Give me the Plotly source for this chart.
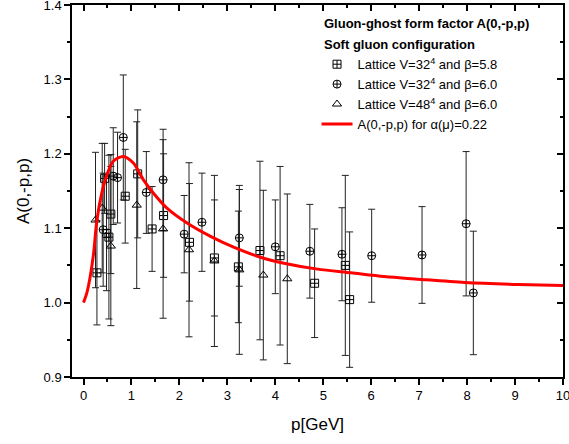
import plotly.graph_objects as go

# Lattice V=32^4, beta=5.8 (squares)
p_sq = [0.28, 0.44, 0.48, 0.53, 0.57, 0.87, 1.13, 1.43, 1.67, 2.21, 2.73, 3.23, 3.68, 4.10, 4.82, 5.46, 5.55]
a_sq = [1.040, 1.167, 1.093, 1.088, 1.119, 1.143, 1.173, 1.099, 1.117, 1.081, 1.060, 1.048, 1.070, 1.063, 1.026, 1.050, 1.004]
e_sq = [0.070, 0.047, 0.077, 0.110, 0.080, 0.063, 0.086, 0.057, 0.083, 0.079, 0.078, 0.075, 0.120, 0.120, 0.073, 0.121, 0.091]

# Lattice V=32^4, beta=6.0 (circles)
p_ci = [0.41, 0.62, 0.71, 0.83, 1.31, 1.66, 2.10, 2.47, 3.25, 4.00, 4.72, 5.39, 6.01, 7.06, 7.98, 8.13]
a_ci = [1.098, 1.170, 1.168, 1.222, 1.148, 1.165, 1.092, 1.108, 1.087, 1.075, 1.069, 1.065, 1.063, 1.064, 1.106, 1.013]
e_ci = [0.076, 0.065, 0.061, 0.084, 0.055, 0.068, 0.052, 0.066, 0.065, 0.063, 0.063, 0.0625, 0.0625, 0.065, 0.097, 0.083]

# Lattice V=48^4, beta=6.0 (triangles)
p_tr = [0.25, 0.39, 0.57, 1.11, 1.66, 2.20, 2.73, 3.25, 3.75, 4.25]
a_tr = [1.111, 1.127, 1.076, 1.131, 1.099, 1.071, 1.056, 1.044, 1.037, 1.032]
e_tr = [0.091, 0.087, 0.107, 0.112, 0.120, 0.117, 0.115, 0.1135, 0.114, 0.114]

# Theory curve A(0,-p,p) for alpha(mu)=0.22
p_th = [0, 0.07, 0.14, 0.21, 0.28, 0.38, 0.49, 0.62, 0.83, 1.04, 1.25, 1.46, 1.74, 2.16, 2.65,
        3.13, 3.69, 4.18, 4.88, 5.58, 6.27, 6.97, 7.95, 9.06, 10.0]
a_th = [1.000, 1.013, 1.035, 1.066, 1.111, 1.147, 1.172, 1.190, 1.1965, 1.1876, 1.165, 1.147, 1.127,
        1.107, 1.089, 1.0745, 1.061, 1.053, 1.045, 1.040, 1.035, 1.0315, 1.027, 1.0243, 1.023]

x_ticks = [0, 1, 2, 3, 4, 5, 6, 7, 8, 9, 10]
y_ticks = [0.9, 1.0, 1.1, 1.2, 1.3, 1.4]
x_range = [-0.24, 10.0]
y_range = [0.9, 1.4]

title_lines = ["Gluon-ghost form factor A(0,-p,p)", "Soft gluon configuration"]

FONT = "Liberation Sans, Arial, sans-serif"
err_style = dict(type="data", visible=True, color="#222222", thickness=1, width=3.5)

fig = go.Figure()
fig.add_trace(go.Scatter(
    x=p_sq, y=a_sq, mode="markers", name="Lattice V=32<sup>4</sup> and β=5.8",
    marker=dict(symbol="square-cross-open", size=8, color="black", line=dict(width=1, color="black")),
    error_y=dict(array=e_sq, **err_style)))
fig.add_trace(go.Scatter(
    x=p_ci, y=a_ci, mode="markers", name="Lattice V=32<sup>4</sup> and β=6.0",
    marker=dict(symbol="circle-cross-open", size=8, color="black", line=dict(width=1, color="black")),
    error_y=dict(array=e_ci, **err_style)))
fig.add_trace(go.Scatter(
    x=p_tr, y=a_tr, mode="markers", name="Lattice V=48<sup>4</sup> and β=6.0",
    marker=dict(symbol="triangle-up-open", size=8, color="black", line=dict(width=1, color="black")),
    error_y=dict(array=e_tr, **err_style)))
fig.add_trace(go.Scatter(
    x=p_th, y=a_th, mode="lines", name="A(0,-p,p) for α(μ)=0.22",
    line=dict(color="#ff0000", width=3, shape="spline", smoothing=0.8)))
# empty trace so the mirrored (top/right) axes are drawn
fig.add_trace(go.Scatter(x=[None], y=[None], xaxis="x2", yaxis="y2", mode="markers",
                         showlegend=False, hoverinfo="skip"))

axis_common = dict(showline=True, linecolor="black", linewidth=1.5, showgrid=False, zeroline=False,
                   tickcolor="black", tickwidth=1.5, automargin=False)

annotations = [
    dict(text="<b>%s</b>" % t, xref="paper", yref="paper", x=0.509, y=yy,
         xanchor="left", yanchor="middle", showarrow=False,
         font=dict(family=FONT, size=13, color="black"))
    for t, yy in zip(title_lines, [0.949, 0.895])
]

fig.update_layout(
    width=569, height=444,
    margin=dict(l=72, r=6, t=5, b=67),
    paper_bgcolor="white", plot_bgcolor="white",
    font=dict(family=FONT, size=13, color="black"),
    showlegend=True,
    annotations=annotations,
    legend=dict(
        x=0.498, y=0.881, xanchor="left", yanchor="top",
        bgcolor="rgba(0,0,0,0)", borderwidth=0,
        font=dict(family=FONT, size=13, color="black"),
        tracegroupgap=0, itemwidth=31,
    ),
    xaxis=dict(range=x_range, tickvals=x_ticks, ticks="outside", ticklen=6,
               ticklabeloverflow="allow",
               minor=dict(dtick=0.5, ticks="outside", ticklen=3.5, tickcolor="black", tickwidth=1.5),
               title=dict(text="p[GeV]", font=dict(family=FONT, size=17), standoff=16),
               tickfont=dict(family=FONT, size=13), **axis_common),
    yaxis=dict(range=y_range, tickvals=y_ticks, tickformat=".1f", ticks="outside", ticklen=6,
               ticklabeloverflow="allow",
               minor=dict(dtick=0.05, ticks="outside", ticklen=3.5, tickcolor="black", tickwidth=1.5),
               title=dict(text="A(0,-p,p)", font=dict(family=FONT, size=17), standoff=10),
               tickfont=dict(family=FONT, size=13), **axis_common),
    xaxis2=dict(range=x_range, overlaying="x", side="top", anchor="y2", tickvals=x_ticks,
                ticks="inside", ticklen=6, showticklabels=False,
                minor=dict(dtick=0.5, ticks="inside", ticklen=3.5, tickcolor="black", tickwidth=1.5),
                **axis_common),
    yaxis2=dict(range=y_range, overlaying="y", side="right", anchor="x2", tickvals=y_ticks,
                ticks="inside", ticklen=6, showticklabels=False,
                minor=dict(dtick=0.05, ticks="inside", ticklen=3.5, tickcolor="black", tickwidth=1.5),
                **axis_common),
)

fig.write_html("out.html", config={"displayModeBar": False},
               post_script="document.body.style.margin='0';document.body.style.overflow='hidden';")
